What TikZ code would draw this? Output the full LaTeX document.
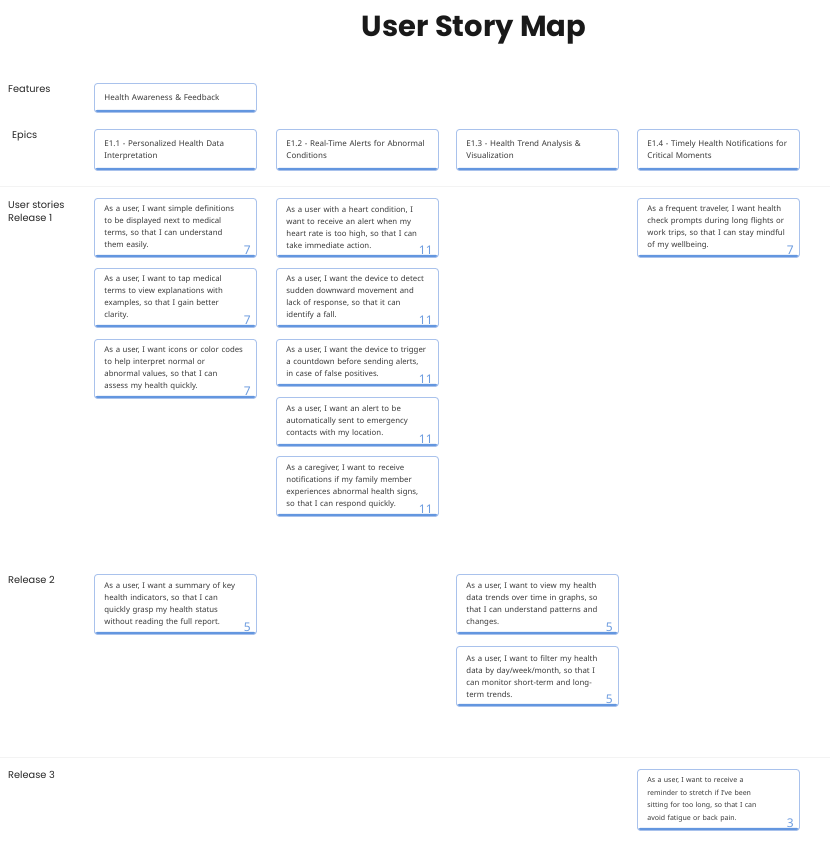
\documentclass[tikz,border=0pt]{standalone}
\usepackage{fontspec}
\setmainfont{Noto Sans}
\newfontfamily\headfont{Poppins}
\usetikzlibrary{positioning}
\definecolor{cardline}{HTML}{A9C2EC}
\definecolor{cardbar}{HTML}{6396DF}
\definecolor{ptsblue}{HTML}{6E9DE0}
\definecolor{cardtext}{HTML}{3A3A3A}
\definecolor{rowline}{HTML}{F3F3F3}

\begin{document}
\begin{tikzpicture}[x=1pt, y=-1pt,
					card/.style={draw=cardline, line width=0.9pt, rounded corners=3pt, fill=white,
						anchor=north west, text width=142pt, inner xsep=10pt, inner ysep=4pt,
						align=left, text=cardtext, font=\fontsize{8}{12}\selectfont,
						path picture={\fill[cardbar] ([yshift=2.6pt]path picture bounding box.south west)
							rectangle (path picture bounding box.south east);}},
					story/.style={card, font=\fontsize{7.8}{12}\selectfont, label={[pts]south east:#1}},
					pts/.style={anchor=south east, xshift=-6pt, yshift=3pt, inner sep=0pt,
						text=ptsblue, font=\fontsize{12}{12}\selectfont},
					rowname/.style={anchor=west, inner sep=0pt, align=left, text=black!85,
						font=\headfont\fontsize{9.8}{13}\selectfont}]

	\useasboundingbox (0,0) rectangle (830,851);

	% row separators
	\draw[rowline, line width=1pt] (0,186) -- (830,186);
	\draw[rowline, line width=1pt] (0,757) -- (830,757);

	\node[text=black!90, font=\headfont\bfseries\fontsize{29}{29}\selectfont] (title) at (474,30) {User Story Map};

	\node[rowname] (features) at (8,89)  {Features};
	\node[rowname] (epics) at (12,136)  {Epics};
	\node[rowname] (release1) at (8,211.5)  {User stories\\Release 1};
	\node[rowname] (release2) at (8,580)  {Release 2};
	\node[rowname] (release3) at (8,775)  {Release 3};

	\node[card, minimum height=29pt] (feat) at (94,83)  {Health Awareness \& Feedback};

	\node[card, minimum height=41pt] (e11) at (94,129)  {E1.1 - Personalized Health Data\\Interpretation};
	\node[card, minimum height=41pt] (e12) at (276,129)  {E1.2 - Real-Time Alerts for Abnormal\\Conditions};
	\node[card, minimum height=41pt] (e13) at (456,129)  {E1.3 - Health Trend Analysis \&\\Visualization};
	\node[card, minimum height=41pt] (e14) at (637,129)  {E1.4 - Timely Health Notifications for\\Critical Moments};

	% release 1
	\node[story=7, minimum height=59pt] (s11) at (94,198)  {As a user, I want simple definitions\\to be displayed next to medical\\terms, so that I can understand\\them easily.};
	\node[story=7, minimum height=59pt] (s12) at (94,268)  {As a user, I want to tap medical\\terms to view explanations with\\examples, so that I gain better\\clarity.};
	\node[story=7, minimum height=59pt] (s13) at (94,339)  {As a user, I want icons or color codes\\to help interpret normal or\\abnormal values, so that I can\\assess my health quickly.};

	\node[story=11, minimum height=59pt] (s21) at (276,198)  {As a user with a heart condition, I\\want to receive an alert when my\\heart rate is too high, so that I can\\take immediate action.};
	\node[story=11, minimum height=59pt] (s22) at (276,268)  {As a user, I want the device to detect\\sudden downward movement and\\lack of response, so that it can\\identify a fall.};
	\node[story=11, minimum height=47pt] (s23) at (276,339)  {As a user, I want the device to trigger\\a countdown before sending alerts,\\in case of false positives.};
	\node[story=11, minimum height=49pt] (s24) at (276,397)  {As a user, I want an alert to be\\automatically sent to emergency\\contacts with my location.};
	\node[story=11, minimum height=60pt] (s25) at (276,456)  {As a caregiver, I want to receive\\notifications if my family member\\experiences abnormal health signs,\\so that I can respond quickly.};

	\node[story=7, minimum height=59pt] (s41) at (637,198)  {As a frequent traveler, I want health\\check prompts during long flights or\\work trips, so that I can stay mindful\\of my wellbeing.};

	% release 2
	\node[story=5, minimum height=60pt] (r21) at (94,574)  {As a user, I want a summary of key\\health indicators, so that I can\\quickly grasp my health status\\without reading the full report.};
	\node[story=5, minimum height=60pt] (r31) at (456,574)  {As a user, I want to view my health\\data trends over time in graphs, so\\that I can understand patterns and\\changes.};
	\node[story=5, minimum height=60pt] (r32) at (456,646)  {As a user, I want to filter my health\\data by day/week/month, so that I\\can monitor short-term and long-\\term trends.};

	% release 3
	\node[story=3, minimum height=61pt, font=\fontsize{7}{12.5}\selectfont] (r41) at (637,769)  {As a user, I want to receive a\\reminder to stretch if I've been\\sitting for too long, so that I can\\avoid fatigue or back pain.};
\end{tikzpicture}
\end{document}
